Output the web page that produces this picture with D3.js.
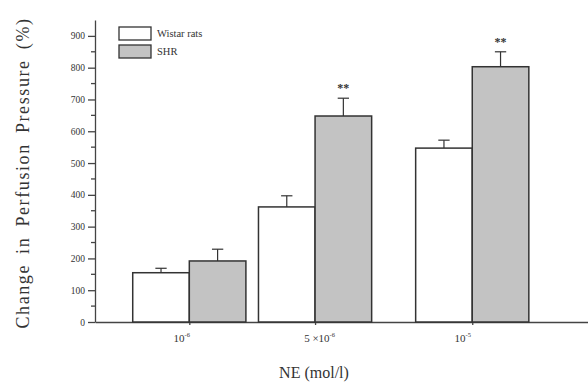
<!DOCTYPE html>
<meta charset="utf-8">
<script src="https://d3js.org/d3.v7.min.js"></script>
<style>
  body { margin: 0; background: #fff; }
  text { font-family: "Liberation Serif", "DejaVu Serif", serif; fill: #333; }
</style>
<div id="viz"></div>
<script>
  // data (concentration in 10^-6 mol/l)
  const doses = [1, 5, 10];
  const doseLabels = ["10", "5 \u00d710", "10"];
  const doseExps = ["-6", "-6", "-5"];
  const wistar = [155, 362, 547];
  const wistarErr = [14, 35, 25];
  const shr = [192, 648, 803];
  const shrErr = [37, 56, 47];
  const signif = ["", "**", "**"];
  const yTicks = [0, 100, 200, 300, 400, 500, 600, 700, 800, 900];

  const width = 588, height = 382;
  const svg = d3.select("#viz").append("svg")
    .attr("width", width).attr("height", height);

  const x = d3.scaleLinear().domain([-2, 14]).range([95, 598]);
  const y = d3.scaleLinear().domain([0, 950]).range([322, 20]);
  const barW = 1.8; // in dose units
  const capW = 0.18;

  // y axis
  const yAxis = svg.append("g").attr("transform", `translate(${x(-2)},0)`);
  yAxis.call(d3.axisLeft(y).tickValues(yTicks).tickSize(7).tickPadding(3).tickSizeOuter(0));
  yAxis.selectAll(".tick text").style("font-size", "9.5px").attr("fill", "#333");
  yAxis.append("g").selectAll("line")
    .data(d3.range(50, 950, 100))
    .join("line")
      .attr("x1", -4).attr("x2", 0)
      .attr("y1", d => y(d)).attr("y2", d => y(d));
  yAxis.selectAll("path, line").attr("stroke", "#444").attr("stroke-width", 1.3);

  // x axis
  const xAxis = svg.append("g").attr("transform", `translate(0,${y(0)})`);
  xAxis.call(d3.axisBottom(x).tickValues(doses).tickSize(3).tickSizeOuter(0).tickFormat(""));
  xAxis.selectAll("path, line").attr("stroke", "#444").attr("stroke-width", 1.3);
  const labShift = [-8, 4, -10];
  const lab = xAxis.selectAll(".tick").append("text")
    .attr("y", 20).attr("x", (d, i) => labShift[i])
    .attr("text-anchor", "middle")
    .style("font-size", "11px").attr("fill", "#333");
  lab.append("tspan").text((d, i) => doseLabels[i]);
  lab.append("tspan").attr("dy", -5).style("font-size", "6.5px").text((d, i) => doseExps[i]);

  // bars
  const groups = doses.map((d, i) => ({dose: d, w: wistar[i], we: wistarErr[i], s: shr[i], se: shrErr[i], sig: signif[i]}));

  function drawSeries(key, errKey, offset, fill) {
    const g = svg.append("g");
    g.selectAll("rect").data(groups).join("rect")
      .attr("x", d => x(d.dose + offset))
      .attr("width", x(barW) - x(0))
      .attr("y", d => y(d[key]))
      .attr("height", d => y(0) - y(d[key]))
      .attr("fill", fill).attr("stroke", "#333").attr("stroke-width", 1.5);
    g.selectAll("line.err").data(groups).join("line").attr("class", "err")
      .attr("x1", d => x(d.dose + offset + barW / 2)).attr("x2", d => x(d.dose + offset + barW / 2))
      .attr("y1", d => y(d[key])).attr("y2", d => y(d[key] + d[errKey]))
      .attr("stroke", "#333").attr("stroke-width", 1.2);
    g.selectAll("line.cap").data(groups).join("line").attr("class", "cap")
      .attr("x1", d => x(d.dose + offset + barW / 2 - capW)).attr("x2", d => x(d.dose + offset + barW / 2 + capW))
      .attr("y1", d => y(d[key] + d[errKey])).attr("y2", d => y(d[key] + d[errKey]))
      .attr("stroke", "#333").attr("stroke-width", 1.2);
  }
  drawSeries("w", "we", -barW, "#fff");
  drawSeries("s", "se", 0, "#c3c3c3");

  svg.append("g").selectAll("text").data(groups).join("text")
    .attr("x", d => x(d.dose + barW / 2))
    .attr("y", d => y(d.s + d.se) - 6)
    .attr("text-anchor", "middle")
    .style("font-size", "12px").style("font-weight", "bold")
    .text(d => d.sig);

  // legend
  const legend = svg.append("g").attr("transform", "translate(119,27)");
  [["Wistar rats", "#fff"], ["SHR", "#c3c3c3"]].forEach(([name, fill], i) => {
    legend.append("rect").attr("x", 0).attr("y", i * 18).attr("width", 32).attr("height", 13)
      .attr("fill", fill).attr("stroke", "#333").attr("stroke-width", 1.3);
    legend.append("text").attr("x", 38).attr("y", i * 18 + 10)
      .style("font-size", "10.5px").text(name);
  });

  // axis titles
  svg.append("text")
    .attr("transform", `translate(29,${(y(0) + y(950)) / 2 + 2}) rotate(-90)`)
    .attr("text-anchor", "middle")
    .style("font-size", "18px")
    .style("letter-spacing", "1.6px")
    .style("word-spacing", "4px")
    .text("Change in Perfusion Pressure (%)");
  svg.append("text")
    .attr("x", 314).attr("y", 378)
    .attr("text-anchor", "middle")
    .style("font-size", "16px")
    .text("NE (mol/l)");
</script>
